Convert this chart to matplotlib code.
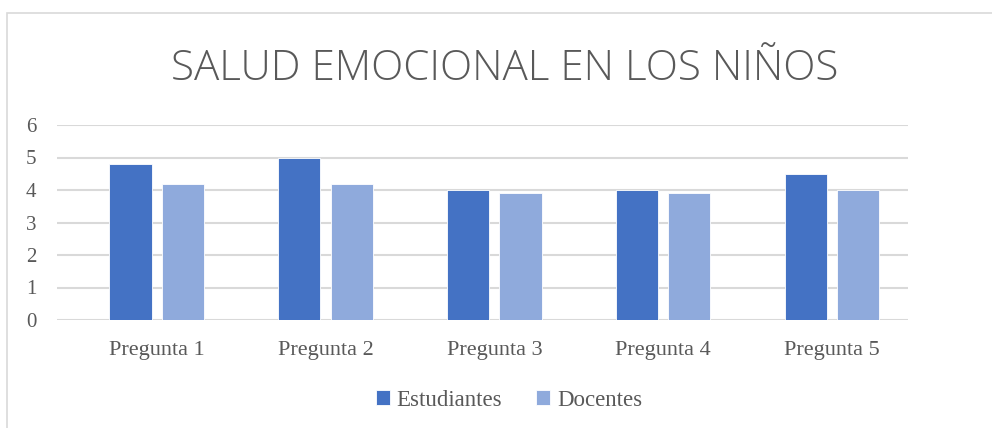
import matplotlib
matplotlib.use("Agg")
import matplotlib.pyplot as plt
import numpy as np
from matplotlib.patches import Rectangle

categories = ["Pregunta 1", "Pregunta 2", "Pregunta 3", "Pregunta 4", "Pregunta 5"]
estudiantes = [4.8, 5.0, 4.0, 4.0, 4.5]
docentes = [4.2, 4.2, 3.9, 3.9, 4.0]

W, H = 992, 428
fig = plt.figure(figsize=(W / 100, H / 100), dpi=100)

# chart border (only left and top visible in the reference)
fig.patches.append(Rectangle((7 / W, -0.1), 1.2, 1 - 13 / H + 0.1, transform=fig.transFigure,
                             fill=False, edgecolor="#d9d9d9", linewidth=1.2))

ax = fig.add_axes([57 / W, 1 - 320 / H, (908 - 57) / W, (320 - 125) / H])

x = np.arange(len(categories))
bw = 0.25
ax.bar(x - 0.155, estudiantes, bw, color="#4472C4", edgecolor="white", linewidth=0.6,
       label="Estudiantes", zorder=3)
ax.bar(x + 0.155, docentes, bw, color="#8FAADC", edgecolor="white", linewidth=0.6,
       label="Docentes", zorder=3)

ax.set_xlim(-0.59, 4.45)
ax.set_ylim(0, 6)
ax.set_yticks(range(0, 7))
ax.set_xticks(x)
ax.set_xticklabels(categories)
ax.yaxis.grid(True, color="#d9d9d9", linewidth=1.5, zorder=0)
for s in ax.spines.values():
    s.set_visible(False)
ax.tick_params(length=0)
ax.tick_params(axis="y", pad=15)
ax.tick_params(axis="x", pad=15)
for lab in ax.get_yticklabels():
    lab.set_fontfamily("Liberation Serif")
    lab.set_fontsize(15)
    lab.set_color("#595959")
for lab in ax.get_xticklabels():
    lab.set_fontfamily("Liberation Serif")
    lab.set_fontsize(16)
    lab.set_color("#595959")

fig.text(505 / W, 1 - 69 / H, "SALUD EMOCIONAL EN LOS NIÑOS", ha="center", va="center",
         fontsize=30.3, color="#595959", family="Open Sans", fontweight="light")

leg = fig.legend(loc="center", bbox_to_anchor=(509 / W, 1 - 400 / H), ncol=2, frameon=False,
                 handlelength=0.6, handleheight=0.6, handletextpad=0.3, columnspacing=1.5,
                 prop={"family": "Liberation Serif", "size": 16.5})
for t in leg.get_texts():
    t.set_color("#595959")

fig.savefig("out.png", dpi=100)
